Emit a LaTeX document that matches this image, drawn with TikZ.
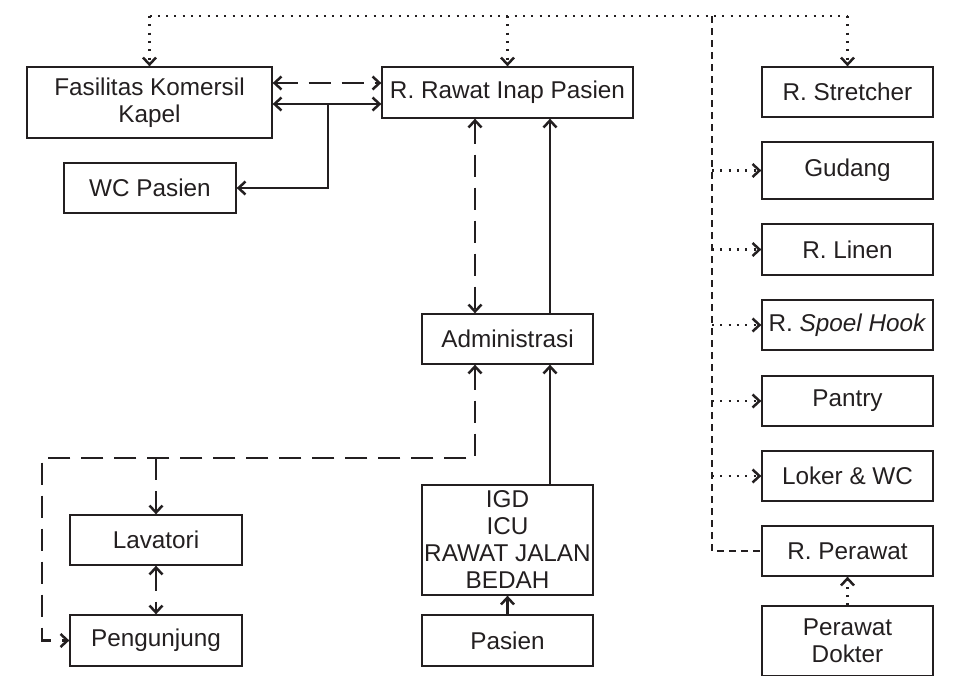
\documentclass[tikz,border=0pt]{standalone}
\usepackage{fontspec}
\setmainfont{Liberation Sans}
\usetikzlibrary{arrows.meta}
\definecolor{ink}{RGB}{35,31,32}

\begin{document}
\begin{tikzpicture}[x=1pt,y=-1pt, color=ink,
  >={Straight Barb[length=7pt,width=13pt]},
  box/.style={draw, line width=1.3pt, inner sep=0pt, align=center,
    font=\fontsize{24.3}{27}\selectfont},
  conn/.style={line width=2.5pt},
  longdash/.style={conn, dash pattern=on 22pt off 11pt},
  shortdash/.style={conn, dash pattern=on 7pt off 5pt},
  dotline/.style={conn, dash pattern=on 2pt off 6.3pt}]

\useasboundingbox (0,0) rectangle (953,675);
\clip (0,0) rectangle (953,675);

% --- rooms ---
\node[box, minimum width=245pt, minimum height=71pt] (fas) at (149.5,102.5) {Fasilitas Komersil\\Kapel};
\node[box, minimum width=251pt, minimum height=51pt] (rawat) at (507.5,92.5) {R. Rawat Inap Pasien};
\node[box, minimum width=172pt, minimum height=50pt] (wc) at (150,188) {WC Pasien};
\node[box, minimum width=171pt, minimum height=50pt] (admin) at (507.5,339) {Administrasi};
\node[box, minimum width=171pt, minimum height=110pt] (igd) at (507.5,540) {IGD\\ICU\\RAWAT JALAN\\BEDAH};
\node[box, minimum width=171pt, minimum height=51pt] (pasien) at (507.5,640.5) {Pasien};
\node[box, minimum width=172pt, minimum height=50pt] (lav) at (156,540) {Lavatori};
\node[box, minimum width=172pt, minimum height=51pt] (peng) at (156,640.5) {Pengunjung};

% --- service column ---
\node[box, minimum width=171pt, minimum height=50pt] (stretcher) at (847.5,92) {R. Stretcher};
\node[box, minimum width=171pt, minimum height=57pt] (gudang) at (847.5,170.5) {Gudang};
\node[box, minimum width=171pt, minimum height=51pt] (linen) at (847.5,249.5) {R. Linen};
\node[box, minimum width=171pt, minimum height=50pt] (spoel) at (847.5,325) {R. \textit{Spoel Hook}};
\node[box, minimum width=171pt, minimum height=50pt] (pantry) at (847.5,401) {Pantry};
\node[box, minimum width=171pt, minimum height=50pt] (loker) at (847.5,476) {Loker \& WC};
\node[box, minimum width=171pt, minimum height=50pt] (perawat) at (847.5,551) {R. Perawat};
\node[box, minimum width=171pt, minimum height=70pt] (dokter) at (847.5,641) {Perawat\\Dokter};

% --- top distribution line ---
\coordinate (bus) at (712,16);
\draw[dotline] (fas.north |- bus) -- (stretcher.north |- bus);
\draw[dotline,->] (fas.north |- bus) -- (fas.north);
\draw[dotline,->] (rawat.north |- bus) -- (rawat.north);
\draw[dotline,->] (stretcher.north |- bus) -- (stretcher.north);
\draw[shortdash] (bus) |- (perawat.west);
\foreach \r in {gudang,linen,spoel,pantry,loker}
  \draw[dotline,->] (bus |- \r.west) -- (\r.west);
\draw[dotline,->] (dokter.north) -- (perawat.south);

% --- ward links ---
\draw[longdash,<->] (fas.east |- 0,83) -- (rawat.west |- 0,83);
\draw[conn,<->] (fas.east |- 0,104) -- (rawat.west |- 0,104);
\coordinate (split) at (328,104);
\draw[conn,->] (split) |- (wc.east);
\draw[longdash,<->] (rawat.south -| 475,0) -- (admin.north -| 475,0);
\draw[conn,->] (admin.north -| 550,0) -- (rawat.south -| 550,0);
\draw[conn,->] (igd.north -| 550,0) -- (admin.south -| 550,0);
\draw[conn,->] (pasien.north) -- (igd.south);

% --- visitor links ---
\coordinate (vc) at (42,458);
\draw[longdash,<->] (admin.south -| 475,0) |- (vc) |- (peng.west);
\draw[longdash,->] (lav.north |- vc) -- (lav.north);
\draw[longdash,<->] (lav.south) -- (peng.north);
\end{tikzpicture}
\end{document}
